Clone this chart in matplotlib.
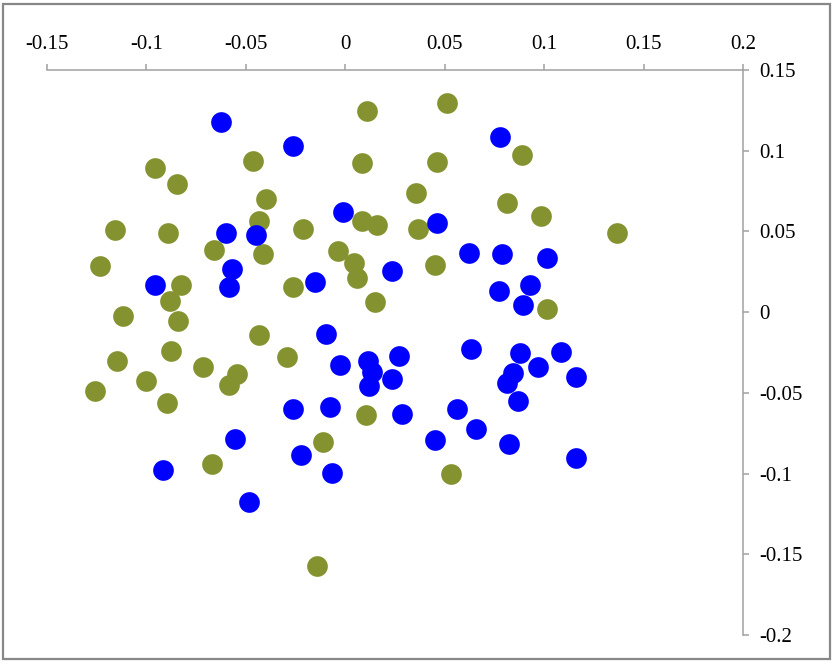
import matplotlib
matplotlib.use("Agg")
import matplotlib.pyplot as plt
from matplotlib.patches import Rectangle

plt.rcParams["font.family"] = ["Liberation Serif", "DejaVu Serif"]
plt.rcParams["axes.unicode_minus"] = False

# series 1 (olive)
green_x = [0.0511, 0.0109, 0.0889, -0.0957, -0.0464, 0.0084, 0.0461, -0.0846, 0.0356, -0.0399,
           0.0813, 0.0984, -0.0434, 0.0084, 0.0159, -0.0213, 0.0366, -0.1158, -0.0892, 0.1366,
           -0.0660, -0.0037, -0.0414, -0.1234, 0.0044, 0.0451, 0.0059, -0.0826, -0.0263, -0.0882,
           0.0149, 0.1014, -0.1118, -0.0841, -0.0434, -0.0876, -0.0293, -0.1148, -0.0716, -0.0545,
           -0.1002, -0.0585, -0.1259, -0.0897, 0.0104, -0.0112, -0.0670, 0.0532, -0.0142]
green_y = [0.1295, 0.1245, 0.0973, 0.0892, 0.0936, 0.0923, 0.0929, 0.0793, 0.0737, 0.0700,
           0.0675, 0.0595, 0.0564, 0.0564, 0.0539, 0.0514, 0.0514, 0.0508, 0.0489, 0.0489,
           0.0384, 0.0378, 0.0359, 0.0285, 0.0304, 0.0291, 0.0211, 0.0167, 0.0155, 0.0068,
           0.0062, 0.0019, -0.0025, -0.0056, -0.0143, -0.0242, -0.0279, -0.0304, -0.0341, -0.0384,
           -0.0428, -0.0452, -0.0489, -0.0564, -0.0638, -0.0805, -0.0942, -0.1004, -0.1574]

# series 2 (blue)
blue_x = [-0.0627, -0.0263, 0.0778, -0.0014, 0.0461, -0.0600, -0.0449, 0.0622, 0.0788, 0.1014,
          -0.0570, 0.0235, -0.0152, -0.0957, -0.0585, 0.0929, 0.0773, 0.0894, -0.0097, 0.0632,
          0.0878, 0.1085, 0.0270, 0.0114, -0.0027, 0.0969, 0.0134, 0.1160, 0.0843, 0.0235,
          0.0813, 0.0119, 0.0868, -0.0263, -0.0077, 0.0562, 0.0285, 0.0657, -0.0555, 0.0451,
          0.0823, -0.0223, 0.1160, -0.0917, -0.0067, -0.0484]
blue_y = [0.1179, 0.1029, 0.1084, 0.0620, 0.0551, 0.0489, 0.0477, 0.0366, 0.0359, 0.0335,
          0.0266, 0.0254, 0.0186, 0.0167, 0.0155, 0.0167, 0.0130, 0.0043, -0.0136, -0.0229,
          -0.0254, -0.0248, -0.0273, -0.0304, -0.0328, -0.0341, -0.0372, -0.0403, -0.0378, -0.0415,
          -0.0440, -0.0458, -0.0551, -0.0601, -0.0589, -0.0601, -0.0632, -0.0725, -0.0787, -0.0793,
          -0.0818, -0.0886, -0.0905, -0.0979, -0.0998, -0.1177]

x_ticks = [-0.15, -0.1, -0.05, 0, 0.05, 0.1, 0.15, 0.2]
x_labels = ["-0.15", "-0.1", "-0.05", "0", "0.05", "0.1", "0.15", "0.2"]
y_ticks = [-0.2, -0.15, -0.1, -0.05, 0, 0.05, 0.1, 0.15]
y_labels = ["-0.2", "-0.15", "-0.1", "-0.05", "0", "0.05", "0.1", "0.15"]

fig = plt.figure(figsize=(8.33, 6.67), dpi=100)
ax = fig.add_axes([47/833, 1 - 635/667, (743 - 47)/833, (635 - 70)/667])

ax.scatter(green_x, green_y, s=222, c="#84932f", linewidths=0, zorder=3)
ax.scatter(blue_x, blue_y, s=222, c="#0000ff", linewidths=0, zorder=4)

ax.set_xlim(-0.15, 0.2)
ax.set_ylim(-0.2, 0.15)
ax.set_xticks(x_ticks)
ax.set_xticklabels(x_labels)
ax.set_yticks(y_ticks)
ax.set_yticklabels(y_labels)

ax.xaxis.tick_top()
ax.yaxis.tick_right()
for s in ["left", "bottom"]:
    ax.spines[s].set_visible(False)
for s in ["top", "right"]:
    ax.spines[s].set_color("#a0a0a0")
    ax.spines[s].set_linewidth(1.1)
ax.tick_params(direction="out", length=4.5, width=1.1, color="#a0a0a0",
               labelsize=15, labelcolor="#000000", pad=7)

# figure border
fig.patches.append(Rectangle((3/833, 1 - 659/667), 827/833, 655/667,
                             transform=fig.transFigure, fill=False,
                             edgecolor="#888888", linewidth=1.6))

fig.savefig("out.png", dpi=100)
